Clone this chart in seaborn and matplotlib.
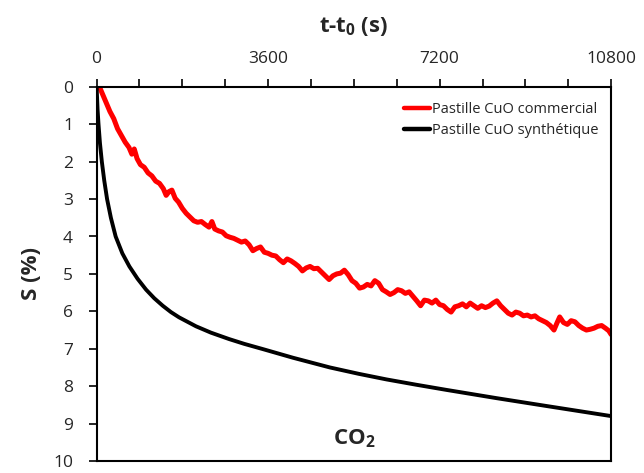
import matplotlib
matplotlib.use("Agg")
import matplotlib.pyplot as plt
import seaborn as sns
import pandas as pd
from matplotlib.ticker import MultipleLocator
from matplotlib.lines import Line2D

# ---- data ----
t_comm = [60, 120, 200, 280, 360, 440, 520, 600, 680, 740, 790, 850, 920, 1000, 1080,
          1160, 1240, 1320, 1400, 1460, 1520, 1580, 1650, 1720, 1800, 1880, 1960,
          2040, 2120, 2200, 2280, 2360, 2420, 2480, 2560, 2640, 2720, 2800, 2880,
          2960, 3040, 3120, 3200, 3280, 3360, 3440, 3520, 3600, 3680, 3760, 3840,
          3920, 4000, 4080, 4160, 4240, 4320, 4400, 4480, 4560, 4640, 4720, 4800,
          4880, 4960, 5040, 5120, 5200, 5280, 5360, 5440, 5520, 5600, 5680, 5760,
          5840, 5920, 6000, 6080, 6160, 6240, 6320, 6400, 6480, 6560, 6640, 6720,
          6800, 6880, 6960, 7040, 7120, 7200, 7280, 7360, 7440, 7520, 7600, 7680,
          7760, 7840, 7920, 8000, 8080, 8160, 8240, 8320, 8400, 8480, 8560, 8640,
          8720, 8800, 8880, 8960, 9040, 9120, 9200, 9280, 9360, 9440, 9520, 9600,
          9660, 9720, 9800, 9880, 9960, 10040, 10120, 10200, 10280, 10360, 10440,
          10520, 10600, 10680, 10750, 10800]
s_comm = [0.00, 0.18, 0.42, 0.66, 0.85, 1.12, 1.30, 1.48, 1.62, 1.80, 1.66, 1.92, 2.08, 2.15, 2.30,
          2.38, 2.52, 2.58, 2.72, 2.90, 2.80, 2.76, 2.98, 3.08, 3.25, 3.38, 3.48,
          3.58, 3.62, 3.60, 3.68, 3.75, 3.60, 3.80, 3.85, 3.88, 3.98, 4.02, 4.05,
          4.10, 4.15, 4.12, 4.22, 4.38, 4.32, 4.28, 4.42, 4.45, 4.50, 4.52, 4.62,
          4.70, 4.60, 4.65, 4.72, 4.80, 4.92, 4.84, 4.80, 4.86, 4.85, 4.95, 5.05,
          5.15, 5.05, 5.00, 4.98, 4.90, 5.02, 5.18, 5.25, 5.38, 5.35, 5.28, 5.32,
          5.18, 5.25, 5.42, 5.48, 5.55, 5.50, 5.42, 5.45, 5.52, 5.48, 5.60, 5.72,
          5.85, 5.70, 5.72, 5.78, 5.70, 5.82, 5.85, 5.95, 6.02, 5.88, 5.85, 5.80,
          5.88, 5.78, 5.85, 5.92, 5.85, 5.90, 5.86, 5.78, 5.72, 5.85, 5.95, 6.05,
          6.10, 6.02, 6.05, 6.12, 6.10, 6.15, 6.12, 6.20, 6.25, 6.30, 6.38, 6.50,
          6.32, 6.15, 6.30, 6.35, 6.25, 6.28, 6.38, 6.45, 6.50, 6.48, 6.45,
          6.40, 6.38, 6.45, 6.52, 6.62]

t_synth = [0, 10, 20, 40, 70, 110, 160, 220, 300, 400, 540, 688, 860, 1038, 1210, 1388,
           1560, 1730, 2086, 2400, 2778, 3100, 3491, 4120, 4896, 5500, 6085, 6700, 7343,
           8392, 9440, 10800]
s_synth = [0.0, 0.3, 0.6, 1.0, 1.5, 2.0, 2.5, 3.0, 3.5, 4.0, 4.45, 4.8, 5.13, 5.42, 5.65, 5.85,
           6.02, 6.16, 6.40, 6.57, 6.74, 6.87, 7.01, 7.24, 7.5, 7.67, 7.82, 7.96, 8.10,
           8.32, 8.53, 8.8]

x_ticks = [0, 3600, 7200, 10800]
y_ticks = list(range(0, 11))
label_comm = "Pastille CuO commercial"
label_synth = "Pastille CuO synthétique"

df_comm = pd.DataFrame({"t": t_comm, "S": s_comm})
df_synth = pd.DataFrame({"t": t_synth, "S": s_synth})

sns.set_style("white")
plt.rcParams["font.family"] = ["Open Sans", "DejaVu Sans"]

fig = plt.figure(figsize=(6.44, 4.73), dpi=100)
ax = fig.add_axes([0.150, 0.0254, 0.799, 0.791])

sns.lineplot(data=df_comm, x="t", y="S", ax=ax, color="#ff0000", linewidth=3.6,
             estimator=None, sort=False)
sns.lineplot(data=df_synth, x="t", y="S", ax=ax, color="black", linewidth=2.8,
             estimator=None, sort=False)

ax.set_xlim(0, 10800)
ax.set_ylim(10, 0)
ax.xaxis.tick_top()
ax.xaxis.set_label_position("top")
ax.set_xticks(x_ticks)
ax.xaxis.set_minor_locator(MultipleLocator(900))
ax.set_yticks(y_ticks)

ax.tick_params(axis="x", which="both", direction="out", length=6, width=1.2,
               top=True, bottom=False, labelsize=12.5, pad=8, color="black")
ax.tick_params(axis="y", which="both", direction="out", length=6, width=1.2,
               left=True, right=False, labelsize=12.5, pad=11, color="black")

for sp in ax.spines.values():
    sp.set_visible(True)
    sp.set_color("black")
    sp.set_linewidth(1.5)

ax.set_xlabel("t-t$_\\mathregular{0}$ (s)", fontsize=16, fontweight="bold", labelpad=14)
ax.set_ylabel("S (%)", fontsize=16, fontweight="bold", labelpad=8)

ax.text(0.5, 0.03, "CO$_\\mathregular{2}$", transform=ax.transAxes, ha="center",
        va="bottom", fontsize=16, fontweight="bold")

handles = [Line2D([], [], color="#ff0000", lw=3.2), Line2D([], [], color="black", lw=3.2)]
ax.legend(handles, [label_comm, label_synth], loc="upper right",
          bbox_to_anchor=(1.0, 0.995), frameon=False, fontsize=10.5,
          handlelength=1.8, handletextpad=0.1, labelspacing=0.45)

fig.savefig("out.png", dpi=100)
